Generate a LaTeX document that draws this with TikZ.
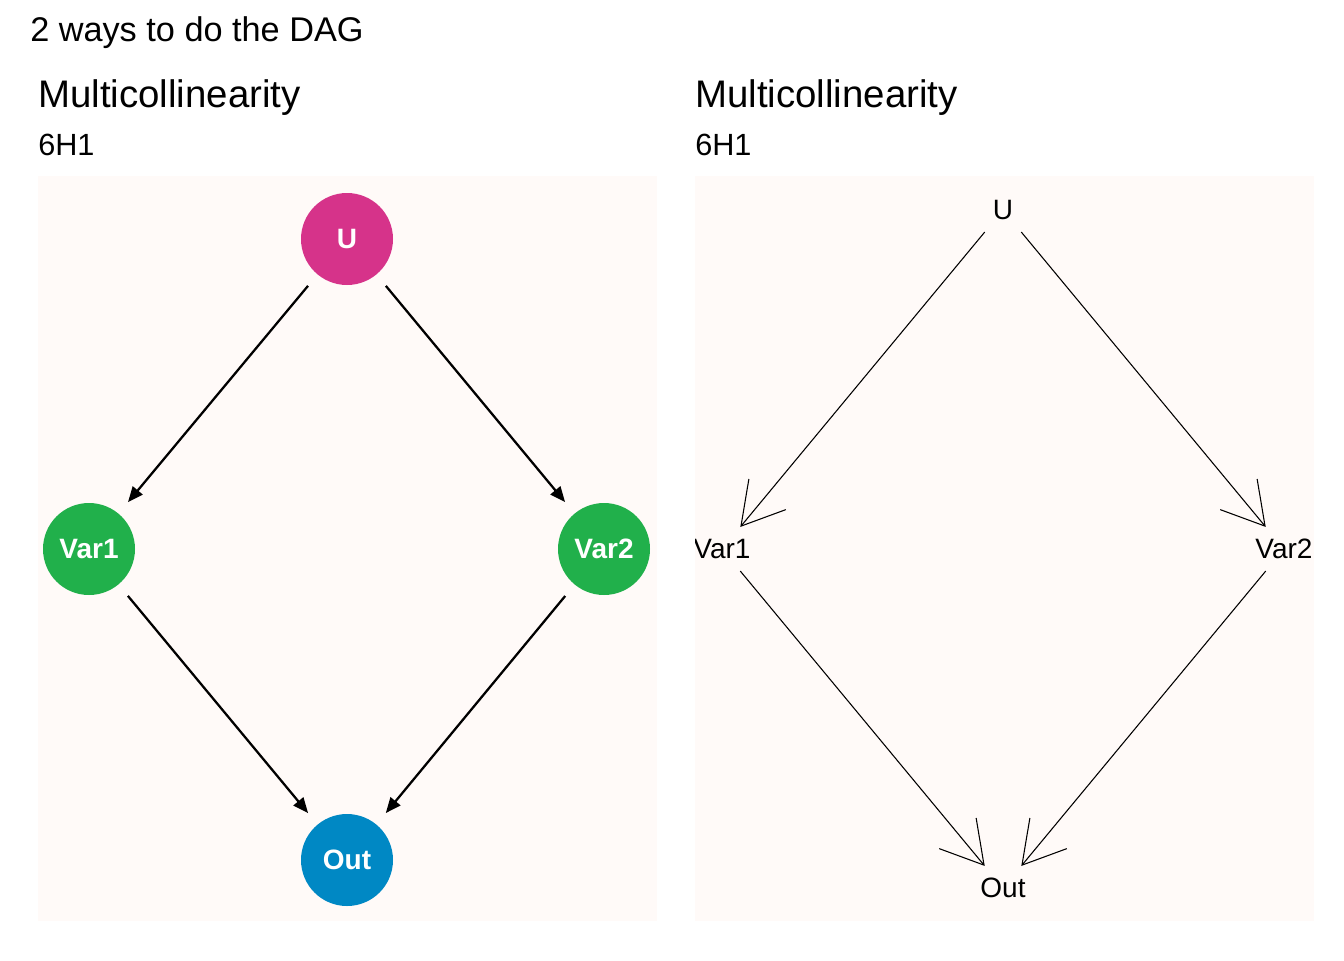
\documentclass[tikz,border=0pt]{standalone}
\usepackage{fontspec}
\setmainfont{Liberation Sans}
\usetikzlibrary{arrows.meta,positioning}
\definecolor{panelbg}{RGB}{255,250,248}
\definecolor{ucol}{RGB}{214,51,138}
\definecolor{varcol}{RGB}{33,176,75}
\definecolor{outcol}{RGB}{0,136,196}

\begin{document}
\begin{tikzpicture}[x=0.75pt,y=-0.75pt]
\tikzset{
    vertex/.style={circle,minimum size=69pt,inner sep=0pt,text=white,font=\fontsize{21}{24}\selectfont\bfseries},
    plainvertex/.style={circle,minimum size=42pt,inner sep=0pt,font=\fontsize{21}{24}\selectfont},
    edge/.style={-{Triangle[length=11.5pt,width=9.5pt]},line width=1.7pt,shorten >=11pt,shorten <=11pt},
    plainedge/.style={-{Straight Barb[length=31pt,width=36pt]},line width=0.8pt,shorten >=21.5pt,shorten <=21.5pt},
    paneltitle/.style={anchor=base west,inner sep=0pt,font=\fontsize{28.8}{32}\selectfont},
    panelsub/.style={anchor=base west,inner sep=0pt,font=\fontsize{23}{26}\selectfont}
}
\useasboundingbox (0,0) rectangle (1344,960);
% titles
\node[anchor=base west,inner sep=0pt,font=\fontsize{25.7}{30}\selectfont] (title) at (30,41) {2 ways to do the DAG};
\node[paneltitle] (t1) at (38,107) {Multicollinearity};
\node[panelsub] (s1) at (38,155) {6H1};
\node[paneltitle] (t2) at (695,107) {Multicollinearity};
\node[panelsub] (s2) at (695,155) {6H1};
% panels
\fill[panelbg] (38,176) rectangle (657,921);
\fill[panelbg] (695,176) rectangle (1314,921);
% left: vertices
\node[vertex,fill=ucol] (U) at (347,239) {U};
\node[vertex,fill=varcol] (Var1) at (89,549) {Var1};
\node[vertex,fill=varcol] (Var2) at (604,549) {Var2};
\node[vertex,fill=outcol] (Out) at (347,860) {Out};
% left: edges
\draw[edge] (U) -- (Var1);
\draw[edge] (U) -- (Var2);
\draw[edge] (Var1) -- (Out);
\draw[edge] (Var2) -- (Out);
% right: vertices
\begin{scope}
\clip (695,176) rectangle (1314,921);
\node[plainvertex] (rU) at (1003,210) {U};
\node[plainvertex] (rVar1) at (722,549) {Var1};
\node[plainvertex] (rVar2) at (1284,549) {Var2};
\node[plainvertex] (rOut) at (1003,888) {Out};
\end{scope}
% right: edges
\draw[plainedge] (rU.center) -- (rVar1.center);
\draw[plainedge] (rU.center) -- (rVar2.center);
\draw[plainedge] (rVar1.center) -- (rOut.center);
\draw[plainedge] (rVar2.center) -- (rOut.center);
\end{tikzpicture}
\end{document}
